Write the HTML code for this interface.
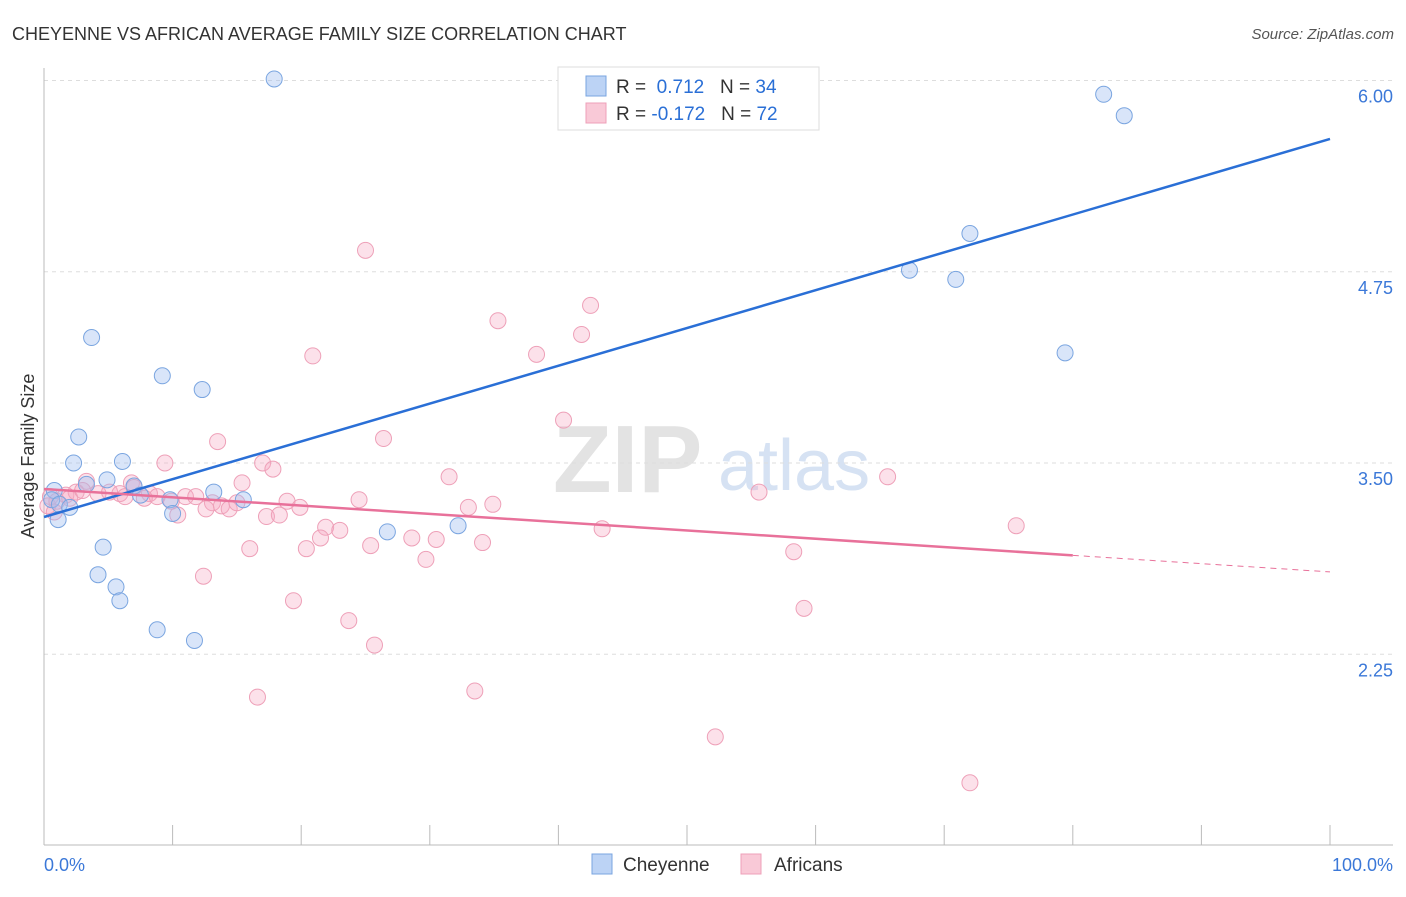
<!DOCTYPE html>
<html><head><meta charset="utf-8"><style>
body{margin:0;background:#fff;font-family:"Liberation Sans",sans-serif}
svg text{font-family:"Liberation Sans",sans-serif}
</style></head><body>
<svg id="c" width="1406" height="892" viewBox="0 0 1406 892" xmlns="http://www.w3.org/2000/svg">
<text x="12" y="40" font-size="18" fill="#333">CHEYENNE VS AFRICAN AVERAGE FAMILY SIZE CORRELATION CHART</text>
<text x="1394" y="39" font-size="15" fill="#555" font-style="italic" text-anchor="end">Source: ZipAtlas.com</text>
<g>
<text x="553" y="492" font-size="96" fill="#e3e3e3" font-family="Liberation Serif" font-weight="bold">ZIP</text>
<text x="718" y="490" font-size="72" fill="#d6e2f3">atlas</text>
</g>
<g id="grid"></g>
<g id="axes"></g>
<g id="pts"></g>
<g id="trend"></g>
<text transform="translate(34,456) rotate(-90)" font-size="18" fill="#333" text-anchor="middle">Average Family Size</text>
<g>
<rect x="558" y="67" width="261" height="63" fill="#fff" stroke="#ddd"/>
<rect x="586" y="76" width="20" height="20" fill="#bcd3f5" stroke="#7aa5e0"/>
<rect x="586" y="103" width="20" height="20" fill="#f9c9d7" stroke="#eea0b8"/>
<text x="616" y="93" font-size="19" fill="#333">R = <tspan fill="#2a6fd6">&#160;0.712</tspan>&#160;&#160;&#160;N = <tspan fill="#2a6fd6">34</tspan></text>
<text x="616" y="120" font-size="19" fill="#333">R = <tspan fill="#2a6fd6">-0.172</tspan>&#160;&#160;&#160;N = <tspan fill="#2a6fd6">72</tspan></text>
</g>
<g><rect x="592" y="854" width="20" height="20" fill="#bcd3f5" stroke="#7aa5e0"/><text x="623" y="871" font-size="19" fill="#333">Cheyenne</text></g>
<g><rect x="741" y="854" width="20" height="20" fill="#f9c9d7" stroke="#eea0b8"/><text x="774" y="871" font-size="19" fill="#333">Africans</text></g>
</svg>
<script>
const yTicks=[6.0,4.75,3.5,2.25];
const yTickLabels=["6.00","4.75","3.50","2.25"];
const xTickLabels=["0.0%","100.0%"];
const blueX=[17.9,82.4,84.0,72.0,67.3,70.9,79.4,3.7,9.2,12.3,2.7,2.3,6.1,4.9,3.3,0.8,0.6,1.2,2.0,1.1,7.0,7.5,9.8,10.0,13.2,15.5,26.7,32.2,4.6,4.2,5.6,5.9,8.8,11.7];
const blueY=[6.01,5.91,5.77,5.0,4.76,4.70,4.22,4.32,4.07,3.98,3.67,3.50,3.51,3.39,3.36,3.32,3.26,3.23,3.21,3.13,3.35,3.29,3.26,3.17,3.31,3.26,3.05,3.09,2.95,2.77,2.69,2.60,2.41,2.34];
const pinkX=[25.0,42.5,35.3,41.8,20.9,38.3,40.4,13.5,26.4,9.4,17.0,17.8,31.5,65.6,3.3,6.8,15.4,55.6,0.5,1.7,2.5,4.2,5.1,5.9,8.2,7.8,8.8,11.0,11.8,13.1,13.8,14.4,15.0,12.6,18.9,19.9,24.5,33.0,34.9,10.4,17.3,18.3,21.9,23.0,21.5,28.6,30.5,34.1,43.4,75.6,16.0,20.4,25.4,29.7,58.3,12.4,19.4,23.7,59.1,25.7,33.5,16.6,52.2,72.0,0.3,1.0,2.0,3.0,6.3,7.0,9.9,0.8];
const pinkY=[4.89,4.53,4.43,4.34,4.20,4.21,3.78,3.64,3.66,3.50,3.50,3.46,3.41,3.41,3.38,3.37,3.37,3.31,3.28,3.29,3.31,3.30,3.31,3.30,3.30,3.27,3.28,3.28,3.28,3.24,3.22,3.20,3.24,3.20,3.25,3.21,3.26,3.21,3.23,3.16,3.15,3.16,3.08,3.06,3.01,3.01,3.00,2.98,3.07,3.09,2.94,2.94,2.96,2.87,2.92,2.76,2.60,2.47,2.55,2.31,2.01,1.97,1.71,1.41,3.22,3.25,3.27,3.32,3.28,3.34,3.25,3.18];
const blueTrend=[3.147,5.618];
const pinkTrend=[3.33,2.788];
const pinkSolidEnd=80;
const NS="http://www.w3.org/2000/svg";
const X=p=>44+p*12.86, Y=v=>463-(v-3.5)*153;
function mk(t,a,parent){const e=document.createElementNS(NS,t);for(const k in a)e.setAttribute(k,a[k]);document.getElementById(parent).appendChild(e);return e;}
yTicks.forEach((v,i)=>{
 const l=mk('line',{x1:44,x2:1393,y1:Y(v),y2:Y(v),stroke:'#ddd','stroke-dasharray':'4,4'},'grid');
 
 
 const t=mk('text',{x:1393,y:Y(v)+22,'font-size':18,fill:'#3b78d8','text-anchor':'end'},'grid');
 t.textContent=yTickLabels[i];
 
 
});
mk('line',{x1:44,x2:44,y1:68,y2:845,stroke:'#bbb'},'axes');
mk('line',{x1:44,x2:1393,y1:845,y2:845,stroke:'#bbb'},'axes');
for(let i=0;i<=10;i++){const t=mk('line',{x1:X(i*10),x2:X(i*10),y1:825,y2:845,stroke:'#bbb'},'axes');
 
 }
[[0,'start',44],[100,'end',1393]].forEach((d,i)=>{const t=mk('text',{x:d[2],y:871,'font-size':18,fill:'#3b78d8','text-anchor':d[1]},'axes');t.textContent=xTickLabels[i];
 
 });
pinkX.forEach((x,i)=>{const c=mk('circle',{cx:X(x),cy:Y(pinkY[i]),r:8,fill:'rgba(245,170,195,0.35)',stroke:'#eea0b8','stroke-width':1},'pts');
 
 });
blueX.forEach((x,i)=>{const c=mk('circle',{cx:X(x),cy:Y(blueY[i]),r:8,fill:'rgba(160,190,240,0.4)',stroke:'#7aa5e0','stroke-width':1},'pts');
 
 });
const bl=mk('line',{x1:X(0),y1:Y(blueTrend[0]),x2:X(100),y2:Y(blueTrend[1]),stroke:'#2a6fd6','stroke-width':2.5},'trend');


const pv=p=>pinkTrend[0]+(pinkTrend[1]-pinkTrend[0])*p/100;
const pl=mk('line',{x1:X(0),y1:Y(pv(0)),x2:X(pinkSolidEnd),y2:Y(pv(pinkSolidEnd)),stroke:'#e8719a','stroke-width':2.5},'trend');


const pd=mk('line',{x1:X(pinkSolidEnd),y1:Y(pv(pinkSolidEnd)),x2:X(100),y2:Y(pv(100)),stroke:'#e8719a','stroke-width':1,'stroke-dasharray':'6,5'},'trend');


</script>
</body></html>
